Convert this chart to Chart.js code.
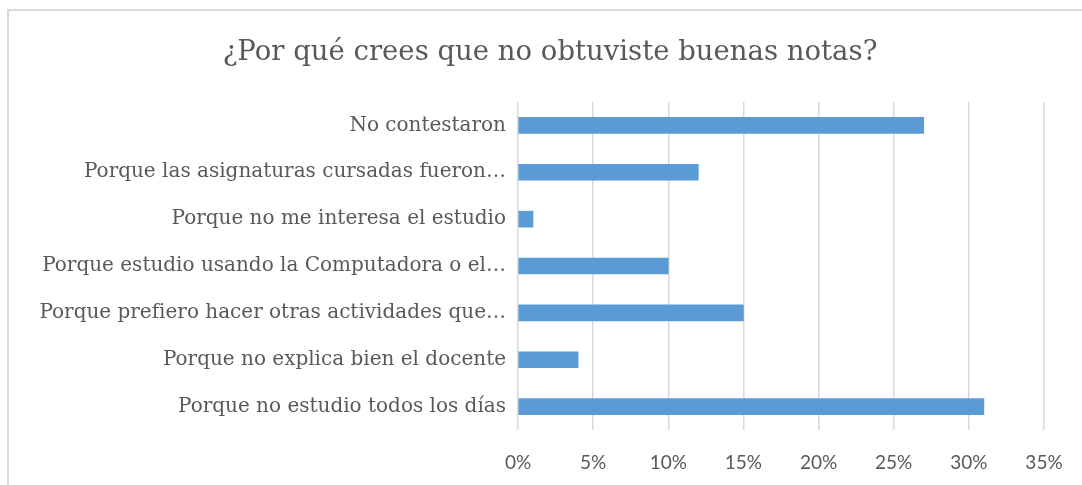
<!DOCTYPE html>
<html lang="es">
  <head>
    <meta charset="UTF-8" />
    <script src="https://cdn.jsdelivr.net/npm/chart.js"></script>
    <title>Notas</title>
    <style>
      body { margin: 0; background: #fff; overflow: hidden; }
      .marco {
        position: absolute; left: 7px; top: 9px; width: 1090px; height: 500px;
        border: 2px solid #d9d9d9; box-sizing: border-box;
      }
      canvas { position: absolute; left: 0; top: 0; }
    </style>
  </head>
  <body>
    <div class="marco"></div>
    <canvas id="grafico" width="1082" height="485"></canvas>
    <script>
      // datos
      var titulo = "¿Por qué crees que no obtuviste buenas notas?";
      var categorias = [
        "No contestaron",
        "Porque las asignaturas cursadas fueron…",
        "Porque no me interesa el estudio",
        "Porque estudio usando la Computadora o el…",
        "Porque prefiero hacer otras actividades que…",
        "Porque no explica bien el docente",
        "Porque no estudio todos los días",
      ];
      var porcentajes = [27, 12, 1, 10, 15, 4, 31];
      var ejeMax = 35;
      var ejePaso = 5;

      var gris = "#595959";
      var serif = "'DejaVu Serif', serif";

      new Chart(document.getElementById("grafico"), {
        type: "bar",
        data: {
          labels: categorias,
          datasets: [
            {
              data: porcentajes,
              backgroundColor: "#5b9bd5",
              barThickness: 16,
            },
          ],
        },
        options: {
          indexAxis: "y",
          responsive: false,
          animation: false,
          layout: { padding: { left: 18 } },
          plugins: {
            legend: { display: false },
            tooltip: { enabled: false },
            title: {
              display: true,
              text: titulo,
              color: gris,
              font: { family: serif, size: 27.5, weight: "normal" },
              padding: { top: 36, bottom: 33 },
            },
          },
          scales: {
            x: {
              min: 0,
              max: ejeMax,
              ticks: {
                stepSize: ejePaso,
                color: gris,
                padding: 21,
                font: { family: "Lato", size: 19 },
                callback: function (v) { return v + "%"; },
              },
              grid: { color: "#d9d9d9", lineWidth: 1.5, drawTicks: false },
              border: { display: false },
              afterFit: function (s) {
                s.height = 55;
                s.paddingRight = 38; // deja el 35% en x=1044
              },
            },
            y: {
              ticks: {
                color: gris,
                padding: 12,
                font: { family: serif, size: 20 },
              },
              grid: { display: false, drawTicks: false },
              border: { display: false },
              afterFit: function (s) { s.width = 500; },
            },
          },
        },
      });
    </script>
  </body>
</html>
